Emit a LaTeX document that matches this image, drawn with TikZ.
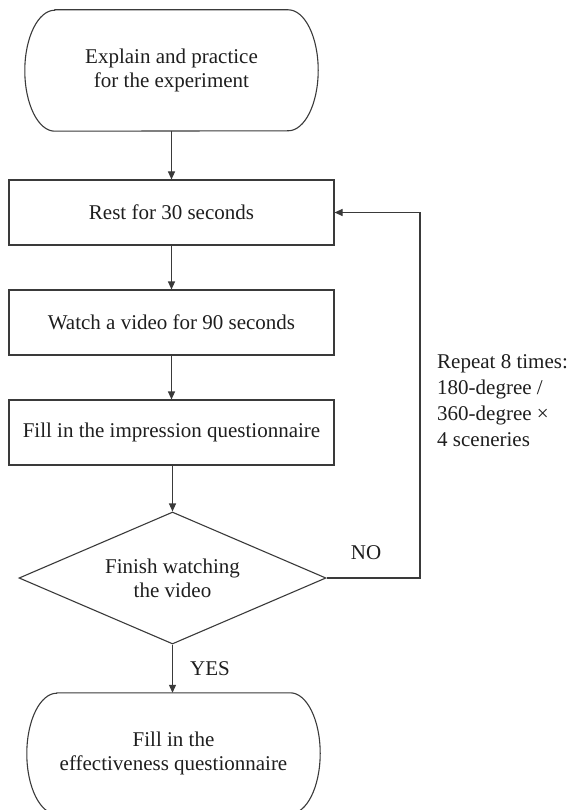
\documentclass[tikz,border=0pt]{standalone}
\usepackage{fontspec}
\setmainfont{Liberation Serif}
\usetikzlibrary{shapes.geometric,arrows.meta}
\definecolor{ln}{HTML}{3A3A3A}
\definecolor{tx}{HTML}{1E1E1E}
\tikzset{
  x=1pt,y=-1pt,
  base/.style={font=\fontsize{21}{24}\selectfont, text=tx, align=center, inner sep=0pt},
  procbox/.style={base, draw=ln, line width=1.1pt, rectangle, minimum width=325pt, minimum height=65pt},
  termbox/.style={base, rectangle, minimum width=293pt, minimum height=121pt},
  decbox/.style={base, draw=ln, line width=1.1pt, diamond, aspect=2.33, minimum width=307pt, minimum height=132pt},
  lbl/.style={font=\fontsize{21}{26}\selectfont, text=tx, inner sep=0pt},
  flow/.style={draw=ln, line width=1.1pt, -{Triangle[length=8pt,width=7pt]}},
  outline/.style={draw=ln, line width=1.1pt}
}
\begin{document}
\begin{tikzpicture}
\useasboundingbox (0,0) rectangle (570,810);
\clip (0,0) rectangle (570,810);
% terminals
\node[termbox] (start) at (171.5,70.5) {Explain and practice\\for the experiment};
\node[termbox] (end) at (173.5,753.5) {Fill in the\\effectiveness questionnaire};
\foreach \n in {start,end}{
  \draw[outline] ([xshift=30pt]\n.north west) -- ([xshift=-30pt]\n.north east)
    arc[start angle=90,end angle=-90,x radius=30pt,y radius=60.5pt]
    -- ([xshift=30pt]\n.south west)
    arc[start angle=270,end angle=90,x radius=30pt,y radius=60.5pt] -- cycle;
}
% process boxes
\node[procbox] (rest) at (171.5,212.5) {Rest for 30 seconds};
\node[procbox] (watch) at (171.5,322.5) {Watch a video for 90 seconds};
\node[procbox] (fill) at (171.5,432.5) {Fill in the impression questionnaire};
% decision
\node[decbox] (dec) at (172.5,578) {Finish watching\\the video};
% loop corner
\coordinate (cr) at (420,578);
\coordinate (ct) at (420,212.5);
% connectors
\draw[flow] (start.south -| rest.north) -- (rest.north);
\draw[flow] (rest) -- (watch);
\draw[flow] (watch) -- (fill);
\draw[flow] (fill.south -| dec.north) -- (dec.north);
\draw[flow] (dec.south) -- (dec.south |- end.north);
\draw[flow] (dec.east) -- (cr) -- (ct) -- (rest.east);
% labels
\node[lbl] (no) at (366,553) {NO};
\node[lbl] (yes) at (210,669) {YES};
\node[lbl, align=left, anchor=west] (rep) at (437,401) {Repeat 8 times:\\180-degree /\\360-degree ×\\4 sceneries};
\end{tikzpicture}
\end{document}
